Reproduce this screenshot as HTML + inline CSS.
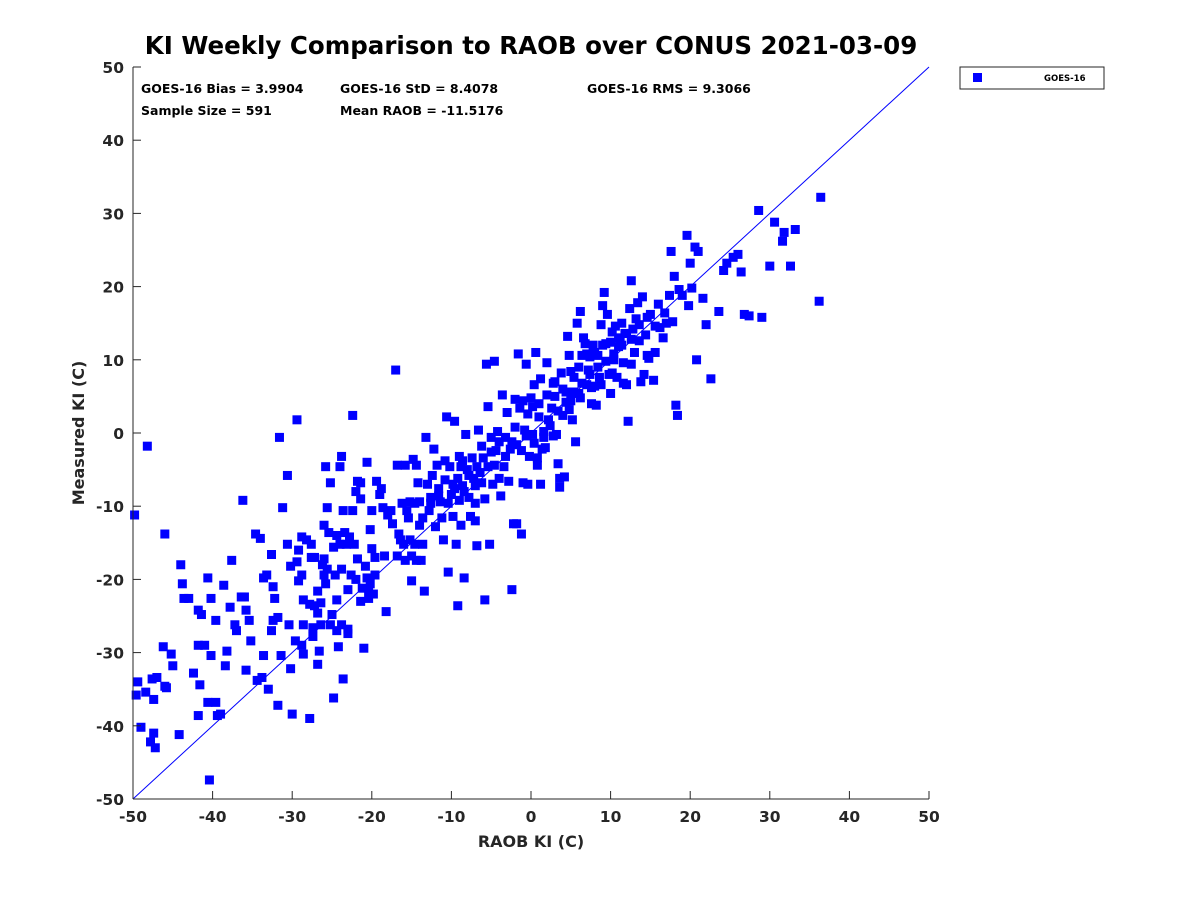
<!DOCTYPE html>
<html><head><meta charset="utf-8"><style>
body{margin:0;background:#fff;}
svg text{font-family:"DejaVu Sans","Liberation Sans",sans-serif;font-weight:bold;fill:#262626;}
</style></head><body>
<svg id="chart" width="1200" height="900" xmlns="http://www.w3.org/2000/svg">
<text x="531" y="54" text-anchor="middle" font-size="24.5" style="fill:#000">KI Weekly Comparison to RAOB over CONUS 2021-03-09</text>
<rect x="133" y="67" width="796" height="732" fill="#fff" stroke="none"/>
<g id="marks"></g>
<line id="diag" stroke="#0000ff" stroke-width="1"/>
<g id="axes"></g>
<g font-size="12.5">
<text x="141" y="93" style="fill:#000">GOES-16 Bias = 3.9904</text>
<text x="340" y="93" style="fill:#000">GOES-16 StD = 8.4078</text>
<text x="587" y="93" style="fill:#000">GOES-16 RMS = 9.3066</text>
<text x="141" y="115" style="fill:#000">Sample Size = 591</text>
<text x="340" y="115" style="fill:#000">Mean RAOB = -11.5176</text>
</g>
<g>
<rect x="960" y="67" width="144" height="22" fill="#fff" stroke="#262626" stroke-width="1"/>
<rect x="973" y="73" width="9" height="9" fill="#0000ff"/>
<text x="1044" y="81" font-size="8.5" style="fill:#000">GOES-16</text>
</g>
<text x="531" y="847" text-anchor="middle" font-size="16">RAOB KI (C)</text>
<text transform="translate(84,433) rotate(-90)" text-anchor="middle" font-size="16">Measured KI (C)</text>
</svg>
<script>
const xTicks=[-50,-40,-30,-20,-10,0,10,20,30,40,50];
const yTicks=[-50,-40,-30,-20,-10,0,10,20,30,40,50];
const raob=[-49.8,-48.2,-46,-49.6,-49.4,-48.4,-47.4,-47,-47.6,-46.2,-46,-45.8,-45.2,-45,-49,-47.8,-47.4,-47.2,-44.2,-44,-43.8,-43.6,-43,-42.4,-41.6,-41.8,-41.8,-41.4,-41,-40.6,-40.2,-40.2,-40.6,-39.6,-39,-39.4,-41.8,-40.4,-39.6,-38.6,-38.2,-38.4,-37.8,-37.6,-37.2,-37,-36.4,-36,-35.8,-36.2,-35.4,-35.2,-35.8,-34.6,-34,-34.4,-33.8,-33.6,-33.6,-33.2,-33,-32.6,-32.6,-32.4,-32.4,-32.2,-31.8,-31.8,-31.4,-31.6,-31.2,-30.6,-30.6,-30.4,-30.2,-30.2,-30,-29.4,-29.4,-29.6,-29.2,-29.2,-28.8,-28.8,-28.8,-28.6,-28.6,-28.6,-28.2,-27.8,-27.8,-27.6,-27.6,-27.4,-27.4,-27.2,-27.2,-26.8,-26.8,-26.8,-26.6,-26.4,-26.4,-26.2,-26,-26,-26,-25.8,-25.8,-25.6,-25.6,-25.4,-25.2,-25.2,-25,-24.8,-24.8,-24.6,-24.4,-24.4,-24.4,-24.2,-24,-24,-23.8,-23.8,-23.8,-23.6,-23.6,-23.4,-23.2,-23,-23,-23,-22.8,-22.6,-22.4,-22.4,-22.2,-22,-22,-21.8,-21.8,-21.4,-21.4,-21.4,-21.2,-21,-20.8,-20.6,-20.6,-20.4,-20.4,-20.2,-20.2,-20,-20,-19.8,-19.6,-19.6,
-19.4,-19,-18.8,-18.6,-18.4,-18.2,-18,-17.6,-17.4,-17,-16.8,-16.8,-16.6,-16.4,-16.2,-16,-15.8,-15.8,-15.6,-15.4,-15.2,-15.2,-15,-15,-14.8,-14.6,-14.6,-14.4,-14.4,-14.2,-14,-14,-13.8,-13.6,-13.4,-13.2,-13,-12.8,-12.6,-12.4,-12.2,-12,-11.8,-11.6,-11.4,-11.2,-11,-10.8,-10.6,-10.4,-10.2,-10,-9.8,-9.6,-9.4,-9.2,-9,-8.8,-8.8,-8.6,-8.4,-8.2,-8,-7.8,-7.6,-7.4,-7.2,-7,-6.8,-6.6,-6.2,-6.2,-5.8,-5.6,-5.4,-5.4,-5.2,-5,-4.8,-4.6,-4.4,-4.2,-4,-3.8,-3.6,-3.4,-3.2,-3,-2.8,-2.6,-2.4,-2.2,-2,-1.8,-1.6,-1.4,-1.2,-1,-1,-0.8,-0.6,-0.4,-0.2,0,0.2,0.4,0.6,0.8,1,1.2,1.4,1.6,
-9.6,-8.6,-7.8,-6.8,-6,-5,-4,-9,-10.8,-11.6,-12.6,-13.6,-9.8,-8.4,-7,-6.4,-4.6,-3.2,-2.4,-1.2,0.2,-2,-0.6,-9.2,-5.8,-1.8,-10.4,-7,
2,2.2,2.6,2.8,3,3.2,3.4,3.6,3.6,3.8,4,4.2,4.4,4.6,4.8,5,5.2,5.4,5.6,5.8,6,6.2,6.4,6.6,6.8,7,7.2,7.4,7.6,7.8,8,8.2,8.4,8.6,8.8,9,9.2,9.4,9.6,9.8,10,10.2,10.4,10.6,10.8,11,11.2,11.4,11.6,11.8,12,12.2,12.4,12.6,12.8,13,13.2,13.4,13.6,13.8,14,14.2,14.4,14.6,14.8,15,15.4,15.6,16,16.2,16.6,17,17.4,17.6,17.8,18,18.2,18.4,18.6,19,19.6,19.8,20,20.2,20.6,20.8,21,21.6,22,22.6,23.6,24.2,24.6,25.4,26,26.4,26.8,27.4,28.6,29,30,30.6,31.6,31.8,32.6,33.2,36.4,36.2,
1,2,3,4,5,6,7,8,9,10,11,12,1.6,2.4,3.4,4.4,5.4,6.4,7.4,8.4,9.4,10.4,11.4,12.6,13.6,14.6,15.6,16.8,0.4,1.8,2.8,4.8,6.2,7.6,8.8,10.2,11.6,12.6,1.2,-0.4,0.8];
const measured=[-11.2,-1.8,-13.8,-35.8,-34,-35.4,-36.4,-33.4,-33.6,-29.2,-34.6,-34.8,-30.2,-31.8,-40.2,-42.2,-41,-43,-41.2,-18,-20.6,-22.6,-22.6,-32.8,-34.4,-29,-24.2,-24.8,-29,-19.8,-22.6,-30.4,-36.8,-36.8,-38.4,-38.6,-38.6,-47.4,-25.6,-20.8,-29.8,-31.8,-23.8,-17.4,-26.2,-27,-22.4,-22.4,-24.2,-9.2,-25.6,-28.4,-32.4,-13.8,-14.4,-33.8,-33.4,-30.4,-19.8,-19.4,-35,-27,-16.6,-25.6,-21,-22.6,-25.2,-37.2,-30.4,-0.6,-10.2,-5.8,-15.2,-26.2,-32.2,-18.2,-38.4,1.8,-17.6,-28.4,-16,-20.2,-14.2,-19.4,-29,-22.8,-26.2,-30.2,-14.6,-23.4,-39,-15.2,-17,-26.6,-27.8,-23.6,-17,-24.6,-21.6,-31.6,-29.8,-23.2,-26.2,-18,-17.2,-19.4,-12.6,-4.6,-20.6,-18.6,-10.2,-13.6,-6.8,-26.2,-24.8,-15.6,-36.2,-19.4,-14,-22.8,-27,-29.2,-4.6,-15.2,-3.2,-18.6,-26.2,-33.6,-10.6,-13.6,-15.2,-21.4,-27.4,-26.8,-14.2,-19.4,2.4,-10.6,-15.2,-8,-20,-6.6,-17.2,-6.8,-23,-9,-21.2,-29.4,-18.2,-4,-19.8,-22.6,-21.4,-13.2,-20.6,-10.6,-15.8,-22,-17,-19.4,
-6.6,-8.4,-7.6,-10.2,-16.8,-24.4,-11.2,-10.6,-12.4,8.6,-4.4,-16.8,-13.8,-14.6,-9.6,-15.2,-4.4,-17.4,-10.6,-11.6,-9.4,-14.6,-16.8,-20.2,-3.6,-9.6,-15.2,-4.4,-17.4,-6.8,-9.4,-12.6,-17.4,-15.2,-21.6,-0.6,-7,-10.6,-8.8,-5.8,-2.2,-12.8,-4.4,-7.6,-9.4,-11.6,-14.6,-6.4,2.2,-9.6,-4.6,-8.4,-11.4,1.6,-15.2,-6.2,-9.2,-4.6,-12.6,-7.2,-19.8,-0.2,-5,-8.8,-11.4,-3.4,-6.2,-9.6,-15.4,0.4,-1.8,-6.8,-9,9.4,3.6,-4.6,-15.2,-0.6,-7,9.8,-2.4,0.2,-6.2,-8.6,5.2,-4.6,-0.6,2.8,-6.6,-2.2,-21.4,-12.4,4.6,-1.6,10.8,3.4,-13.8,4.4,-6.8,0.4,9.4,2.6,-3.2,4.8,-0.2,6.6,11,-4.4,2.2,7.4,-2.2,0.2,
-7.6,-3.8,-5.8,-4.6,-3.4,-2.6,-1.2,-3.2,-3.8,-8.6,-9.6,-11.6,-7,-8,-7.2,-5.4,-4.4,-3.2,-1.2,-2.4,3.6,0.8,-0.4,-23.6,-22.8,-12.4,-19,-12,
9.6,1.8,3.4,6.8,5,-0.2,-4.2,-7.4,-6.2,8.2,2.4,-6,5.6,13.2,10.6,4.4,1.8,7.6,-1.2,15,5.4,16.6,10.6,13,12.2,6.6,8.6,10.4,4,12,6.4,3.8,10.6,7.6,14.8,17.4,19.2,12.2,16.2,8,5.4,13.8,10,14.6,7.6,11.8,12.6,15,9.6,13.6,6.6,1.6,17,20.8,14.2,11,15.6,17.8,12.6,7,18.6,8,13.4,10.6,10.2,16.2,7.2,11,17.6,14.4,13,15,18.8,24.8,15.2,21.4,3.8,2.4,19.6,18.8,27,17.4,23.2,19.8,25.4,10,24.8,18.4,14.8,7.4,16.6,22.2,23.2,24,24.4,22,16.2,16,30.4,15.8,22.8,28.8,26.2,27.4,22.8,27.8,32.2,18,
4,5.2,7,6,8.4,9,10.8,11,12,12.4,13,13.6,-0.6,1,3,4.2,5.6,6.8,8,9,9.8,10.8,12,12.8,14.8,15.8,14.6,16.4,-1.4,-2,-0.4,3.2,4.8,6.2,6.6,8.2,6.8,9.4,-7,-7,-3.4];

const X0=133,X1=929,Y0=799,Y1=67;
function xs(v){return X0+(v+50)/100*(X1-X0);}
function ys(v){return Y0-(v+50)/100*(Y0-Y1);}
const NS="http://www.w3.org/2000/svg";
const marks=document.getElementById('marks');
const n=Math.min(raob.length,measured.length);
for(let i=0;i<n;i++){
  const r=document.createElementNS(NS,'rect');
  r.setAttribute('x',xs(raob[i])-4.5);
  r.setAttribute('y',ys(measured[i])-4.5);
  r.setAttribute('width',9);r.setAttribute('height',9);
  r.setAttribute('fill','#0000ff');
  
  
  marks.appendChild(r);
}
const d=document.getElementById('diag');
d.setAttribute('x1',xs(-50));d.setAttribute('y1',ys(-50));d.setAttribute('x2',xs(50));d.setAttribute('y2',ys(50));
const ax=document.getElementById('axes');
function ln(x1,y1,x2,y2){const l=document.createElementNS(NS,'line');l.setAttribute('x1',x1);l.setAttribute('y1',y1);l.setAttribute('x2',x2);l.setAttribute('y2',y2);l.setAttribute('stroke','#262626');l.setAttribute('stroke-width','1');ax.appendChild(l);return l;}
const xa=ln(X0,Y0,X1,Y0);


const ya=ln(X0,Y0,X0,Y1);


xTicks.forEach(t=>{const x=xs(t);const tk=ln(x,Y0,x,Y0-8);


const tx=document.createElementNS(NS,'text');tx.setAttribute('x',x);tx.setAttribute('y',Y0+23);tx.setAttribute('text-anchor','middle');tx.setAttribute('font-size','15.5');tx.textContent=t;


ax.appendChild(tx);});
yTicks.forEach(t=>{const y=ys(t);const tk=ln(X0,y,X0+8,y);


const tx=document.createElementNS(NS,'text');tx.setAttribute('x',X0-9);tx.setAttribute('y',y+6);tx.setAttribute('text-anchor','end');tx.setAttribute('font-size','15.5');tx.textContent=t;


ax.appendChild(tx);});
</script>
</body></html>
